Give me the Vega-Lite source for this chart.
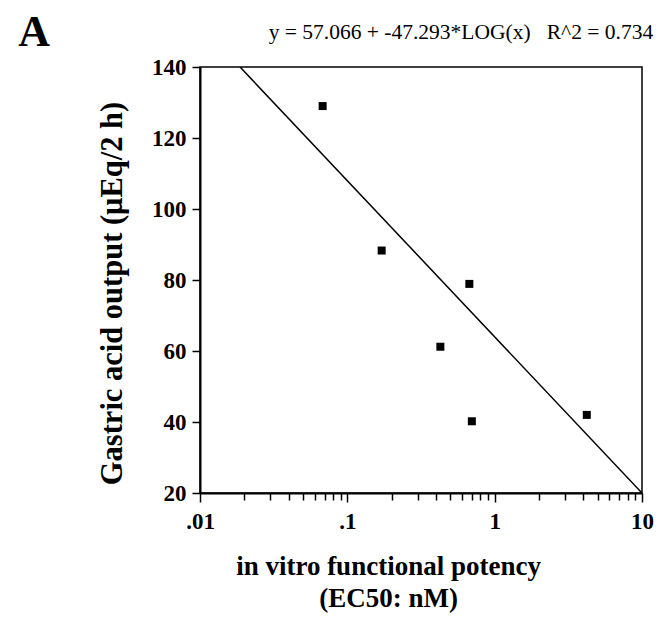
{
  "$schema": "https://vega.github.io/schema/vega-lite/v6.json",
  "autosize": {"type": "none"},
  "padding": {"left": 200, "top": 67, "right": 16, "bottom": 135},
  "width": 442,
  "height": 426,
  "background": "white",
  "config": {
    "view": {"stroke": "black", "strokeWidth": 1.5},
    "font": "Liberation Serif"
  },
  "datasets": {
    "points": [
      {"ec50": 0.068, "acid": 129.0},
      {"ec50": 0.171, "acid": 88.3},
      {"ec50": 0.673, "acid": 78.9},
      {"ec50": 0.428, "acid": 61.2},
      {"ec50": 0.700, "acid": 40.2},
      {"ec50": 4.22, "acid": 42.0}
    ],
    "fit": [
      {"ec50": 0.0187, "acid": 140},
      {"ec50": 10, "acid": 20}
    ],
    "label": [
      {"ec50": 0.59, "acid": 149.6, "text": "y = 57.066 + -47.293*LOG(x)\u00a0\u00a0\u00a0R^2 = 0.734"}
    ],
    "panel": [
      {"ec50": 0.00075, "acid": 149.6, "text": "A"}
    ]
  },
  "encoding": {
    "x": {
      "field": "ec50",
      "type": "quantitative",
      "scale": {"type": "log", "domain": [0.01, 10], "nice": false},
      "axis": {
        "title": ["in vitro functional potency", "(EC50: nM)"],
        "titleFont": "Liberation Serif",
        "titleFontSize": 27,
        "titleFontWeight": "bold",
        "titleColor": "black",
        "titleLineHeight": 32,
        "titlePadding": 20,
        "titleX": 188,
        "values": [0.01, 0.02, 0.03, 0.04, 0.05, 0.06, 0.07, 0.08, 0.09, 0.1, 0.2, 0.3, 0.4, 0.5, 0.6, 0.7, 0.8, 0.9, 1, 2, 3, 4, 5, 6, 7, 8, 9, 10],
        "labelExpr": "datum.value == 0.01 ? '.01' : datum.value == 0.1 ? '.1' : datum.value == 1 ? '1' : datum.value == 10 ? '10' : ''",
        "labelFont": "Liberation Serif",
        "labelFontSize": 23,
        "labelFontWeight": "bold",
        "labelColor": "black",
        "labelPadding": 8,
        "labelFlush": false,
        "labelOverlap": false,
        "grid": false,
        "domainColor": "black",
        "domainWidth": 2,
        "tickColor": "black",
        "tickWidth": 1.5,
        "tickSize": {"condition": {"test": "datum.value == 0.01 || datum.value == 0.1 || datum.value == 1 || datum.value == 10", "value": 9}, "value": 7}
      }
    },
    "y": {
      "field": "acid",
      "type": "quantitative",
      "scale": {"domain": [20, 140], "nice": false, "zero": false},
      "axis": {
        "title": "Gastric acid output (μEq/2 h)",
        "titleFont": "Liberation Serif",
        "titleFontSize": 30.5,
        "titleFontWeight": "bold",
        "titleColor": "black",
        "titlePadding": 24,
        "titleY": 226,
        "values": [20, 40, 60, 80, 100, 120, 140],
        "labelFont": "Liberation Serif",
        "labelFontSize": 23,
        "labelFontWeight": "bold",
        "labelColor": "black",
        "labelPadding": 6,
        "labelFlush": false,
        "grid": false,
        "domainColor": "black",
        "domainWidth": 2,
        "tickColor": "black",
        "tickWidth": 1.5,
        "tickSize": 8
      }
    }
  },
  "layer": [
    {
      "data": {"name": "fit"},
      "mark": {"type": "line", "color": "black", "strokeWidth": 1.5, "clip": true}
    },
    {
      "data": {"name": "points"},
      "mark": {"type": "square", "size": 64, "color": "black", "filled": true, "opacity": 1}
    },
    {
      "data": {"name": "label"},
      "mark": {"type": "text", "font": "Liberation Serif", "fontSize": 21.5, "color": "black", "align": "center", "baseline": "middle"},
      "encoding": {"text": {"field": "text", "type": "nominal"}}
    },
    {
      "data": {"name": "panel"},
      "mark": {"type": "text", "font": "Liberation Serif", "fontSize": 44, "fontWeight": "bold", "color": "black", "align": "center", "baseline": "middle"},
      "encoding": {"text": {"field": "text", "type": "nominal"}}
    }
  ]
}
